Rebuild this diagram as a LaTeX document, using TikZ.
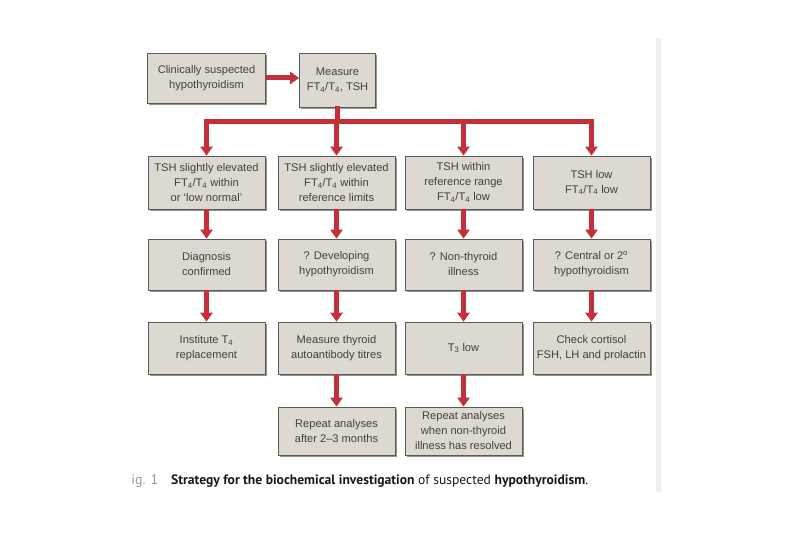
\documentclass[tikz,border=0pt]{standalone}
\usepackage{fontspec}
\setmainfont{Liberation Sans}
\newfontfamily\capfont{PT Sans}
\usetikzlibrary{arrows.meta,shadows,calc}
\definecolor{boxfill}{HTML}{DDD9D1}
\definecolor{boxline}{HTML}{5A5A5A}
\definecolor{txt}{HTML}{404040}
\definecolor{redarrow}{HTML}{C4303A}
\definecolor{edgestrip}{HTML}{EEEEF3}
\tikzset{
  box/.style={draw=boxline, fill=boxfill, line width=0.7pt, text=txt,
    align=center, inner sep=0pt, font=\fontsize{11.1}{15}\selectfont,
    drop shadow={shadow xshift=1.8pt, shadow yshift=-1.8pt, opacity=0.6, fill=black!70}},
  c1/.style={box, minimum width=117pt},
  arr/.style={draw=redarrow, line width=5pt, -{Triangle[width=12pt,length=9pt]}},
  bar/.style={draw=redarrow, line width=5.5pt},
}
\begin{document}
\begin{tikzpicture}[x=1pt,y=-1pt]
\useasboundingbox (0,0) rectangle (810,540);
\fill[white] (0,0) rectangle (810,540);
\fill[edgestrip] (656,38) rectangle (661,492);

% top row
\node[box, minimum width=118pt, minimum height=50pt] (A) at (206.5,78) {Clinically suspected\\hypothyroidism};
\node[box, minimum width=76pt, minimum height=54pt] (B) at (337.5,80) {Measure\\FT\textsubscript{4}/T\textsubscript{4}, TSH};

% row 2
\node[c1, minimum height=53pt] (r2a) at (206.5,182.5) {TSH slightly elevated\\FT\textsubscript{4}/T\textsubscript{4} within\\or `low normal'};
\node[c1, minimum height=53pt] (r2b) at (336.5,182.5) {TSH slightly elevated\\FT\textsubscript{4}/T\textsubscript{4} within\\reference limits};
\node[c1, minimum height=53pt] (r2c) at (463.5,182.5) {TSH within\\reference range\\FT\textsubscript{4}/T\textsubscript{4} low};
\node[c1, minimum height=53pt] (r2d) at (591.5,182.5) {TSH low\\FT\textsubscript{4}/T\textsubscript{4} low};

% row 3
\node[c1, minimum height=51pt] (r3a) at (206.5,264.5) {Diagnosis\\confirmed};
\node[c1, minimum height=51pt] (r3b) at (336.5,264.5) {? Developing\\hypothyroidism};
\node[c1, minimum height=51pt] (r3c) at (463.5,264.5) {? Non-thyroid\\illness};
\node[c1, minimum height=51pt] (r3d) at (591.5,264.5) {? Central or 2\textsuperscript{o}\\hypothyroidism};

% row 4
\node[c1, minimum height=52pt] (r4a) at (206.5,348) {Institute T\textsubscript{4}\\replacement};
\node[c1, minimum height=52pt] (r4b) at (336.5,348) {Measure thyroid\\autoantibody titres};
\node[c1, minimum height=52pt] (r4c) at (463.5,348) {T\textsubscript{3} low};
\node[c1, minimum height=52pt] (r4d) at (591.5,348) {Check cortisol\\FSH, LH and prolactin};

% row 5
\node[c1, minimum height=48pt] (r5b) at (336.5,431) {Repeat analyses\\after 2--3 months};
\node[c1, minimum height=48pt] (r5c) at (463.5,431) {Repeat analyses\\when non-thyroid\\illness has resolved};

% connectors
\draw[arr] (A.east) -- (A.east -| B.west);
\coordinate (J) at ($(B.south |- 0,121.5)$);
\draw[bar] ($(B.south)+(0,-1)$) -- (J);
\draw[bar] ($(r2a.north |- J)+(-2.75,0)$) -- ($(r2d.north |- J)+(2.75,0)$);
\foreach \n in {r2a,r2b,r2c,r2d} {
  \draw[arr] (\n.north |- J) -- (\n.north);
}
\foreach \a/\b in {r2a/r3a,r2b/r3b,r2c/r3c,r2d/r3d,r3a/r4a,r3b/r4b,r3c/r4c,r3d/r4d,r4b/r5b,r4c/r5c} {
  \draw[arr] (\a.south) -- (\b.north);
}

% caption
\begin{scope}
\clip (131,460) rectangle (168,500);
\node[anchor=base west, inner sep=0pt, text=black!40, font=\capfont\fontsize{14}{16}\selectfont] (fig) at (124,484) {Fig. 1};
\end{scope}
\node[anchor=base west, inner sep=0pt, text=black!90, font=\capfont\fontsize{13.6}{16}\selectfont] (cap) at (171,484)
  {\textbf{Strategy for the biochemical investigation} of suspected \textbf{hypothyroidism}.};
\end{tikzpicture}
\end{document}
